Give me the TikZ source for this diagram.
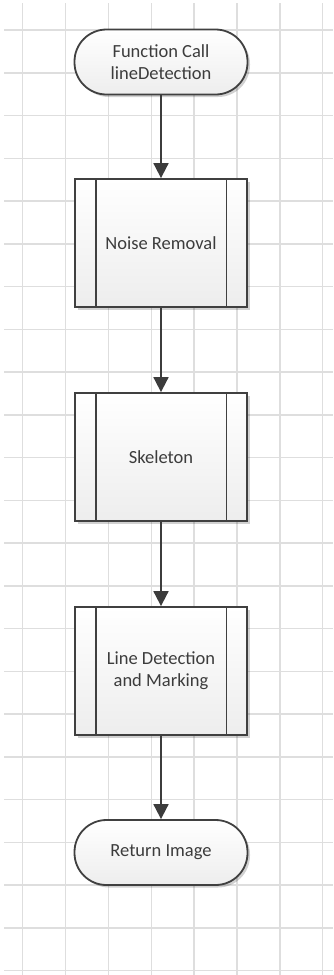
\documentclass[tikz,border=0pt]{standalone}
\usepackage{fontspec}
\setmainfont{Carlito}
\usetikzlibrary{arrows.meta,shadows}
\definecolor{gridline}{HTML}{DEDEDE}
\definecolor{edge}{HTML}{404040}
\definecolor{ink}{HTML}{3C3C3C}
\tikzset{
  shapebase/.style={draw=edge, line width=1.8pt, top color=white, bottom color=black!7,
    text=ink, align=center, font=\fontsize{18.5}{22}\selectfont,
    drop shadow={shadow xshift=2.5pt, shadow yshift=-2.5pt, opacity=0.18, fill=black}},
  terminal/.style={shapebase, rectangle, rounded corners=32pt, minimum width=173pt, minimum height=65pt},
  subroutine/.style={shapebase, rectangle, minimum width=172pt, minimum height=128pt},
  flow/.style={draw=ink, line width=1.8pt, -{Triangle[width=15pt,length=15pt]}},
  bar/.style={draw=edge, line width=1.8pt}
}
\begin{document}
\begin{tikzpicture}[x=1pt,y=-1pt]
  \useasboundingbox (0,0) rectangle (333,975);
  \fill[white] (0,0) rectangle (333,975);
  % background grid
  \foreach \k in {0,...,22}
    \draw[gridline, line width=1.5pt] (4,{30+42.75*\k}) -- (333,{30+42.75*\k});
  \foreach \k in {0,...,7}
    \draw[gridline, line width=1.5pt] ({22.7+42.86*\k},3) -- ({22.7+42.86*\k},975);

  % flowchart nodes
  \node[terminal] (start) at (161,62) {Function Call\\lineDetection};
  \node[subroutine] (noise) at (161,243) {Noise Removal};
  \node[subroutine] (skel) at (161,457) {Skeleton};
  \node[subroutine] (lines) at (161,671) {Line Detection\\and Marking};
  \node[terminal] (ret) at (161,852.5) {Return Image};

  % inner bars of the predefined-process boxes
  \foreach \n in {noise,skel,lines}{
    \draw[bar] ([xshift=21.5pt]\n.north west) -- ([xshift=21.5pt]\n.south west);
    \draw[bar] ([xshift=-21.5pt]\n.north east) -- ([xshift=-21.5pt]\n.south east);
  }

  % connectors
  \draw[flow] (start) -- (noise);
  \draw[flow] (noise) -- (skel);
  \draw[flow] (skel) -- (lines);
  \draw[flow] (lines) -- (ret);
\end{tikzpicture}
\end{document}
